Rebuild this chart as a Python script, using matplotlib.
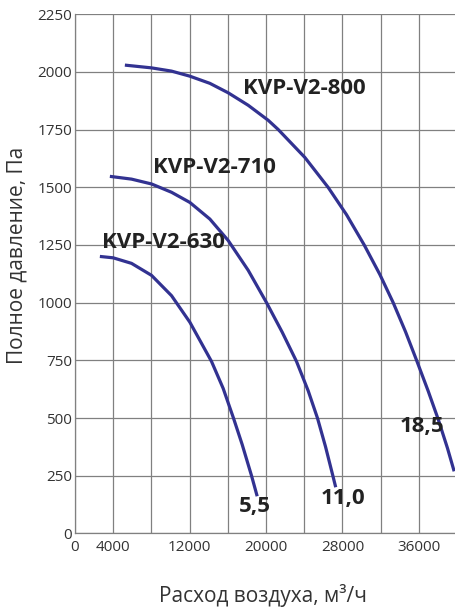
import matplotlib
matplotlib.use("Agg")
import matplotlib.pyplot as plt

plt.rcParams['font.family'] = ['Open Sans', 'DejaVu Sans']

# fan curves: flow (m3/h), total pressure (Pa)
q_630 = [2604, 4000, 5920, 8014, 10108, 12027, 14296, 15517, 16599, 17506,
         18484, 19077]
p_630 = [1200, 1194, 1170, 1118, 1030, 915, 745, 628, 499, 385, 250, 161]

q_710 = [3651, 5920, 8014, 10108, 12027, 14121, 16041, 18135, 20054, 21694,
         23195, 24417, 25394, 26231, 26999, 27300]
p_710 = [1547, 1535, 1514, 1478, 1434, 1362, 1269, 1140, 1000, 872,
         745, 618, 499, 376, 250, 200]

q_800 = [5222, 8014, 10108, 12027, 14121, 16041, 18135, 20229, 21276, 24068,
         26511, 28430, 30280, 31920, 33316, 34607, 35759, 36981, 38028, 39005,
         39703]
p_800 = [2029, 2017, 2003, 1981, 1950, 1909, 1855, 1790, 1750, 1629,
         1499, 1381, 1250, 1122, 1000, 874, 751, 617, 495, 369,
         269]

names = ["KVP-V2-630", "KVP-V2-710", "KVP-V2-800"]
name_pos = [(9250, 1260), (14630, 1586), (24000, 1929)]
powers = ["5,5", "11,0", "18,5"]
power_pos = [(18850, 116), (28110, 152), (36350, 465)]

x_ticks = list(range(0, 40001, 4000))
x_labels = ["0", "4000", "", "12000", "", "20000", "", "28000", "", "36000", ""]
y_ticks = list(range(0, 2251, 250))

line_color = "#323291"
grid_color = "#808080"
text_color = "#333333"

fig = plt.figure(figsize=(4.55, 6.12), dpi=100)
ax = fig.add_axes([75 / 455, 1 - 533.4 / 612, 382 / 455, 519.3 / 612])

for q, p in [(q_630, p_630), (q_710, p_710), (q_800, p_800)]:
    ax.plot(q, p, color=line_color, lw=2.3, solid_capstyle='butt',
            solid_joinstyle='round', zorder=3)

for txt, (x, y) in zip(names, name_pos):
    ax.text(x, y, txt, fontsize=16, fontweight='bold', color='#222222',
            ha='center', va='center', zorder=4)
for txt, (x, y) in zip(powers, power_pos):
    ax.text(x, y, txt, fontsize=16, fontweight='bold', color='#222222',
            ha='center', va='center', zorder=4)

ax.set_xlim(0, 40000)
ax.set_ylim(0, 2250)
ax.set_xticks(x_ticks)
ax.set_xticklabels(x_labels)
ax.set_yticks(y_ticks)
ax.grid(True, color=grid_color, lw=0.9)
ax.set_axisbelow(True)
ax.tick_params(length=0, labelsize=11, labelcolor=text_color)
ax.tick_params(axis='y', pad=2)
ax.tick_params(axis='x', pad=5)
for side in ['top', 'right']:
    ax.spines[side].set_visible(False)
for side in ['left', 'bottom']:
    ax.spines[side].set_color(grid_color)
    ax.spines[side].set_linewidth(0.9)

ax.set_ylabel("Полное давление, Па", fontsize=15, color=text_color, va='center')
ax.yaxis.set_label_coords(-0.152, 0.536)
ax.set_xlabel("Расход воздуха, м³/ч", fontsize=15, color=text_color, va='center')
ax.xaxis.set_label_coords(0.492, -0.12)

fig.savefig("out.png", dpi=100)
